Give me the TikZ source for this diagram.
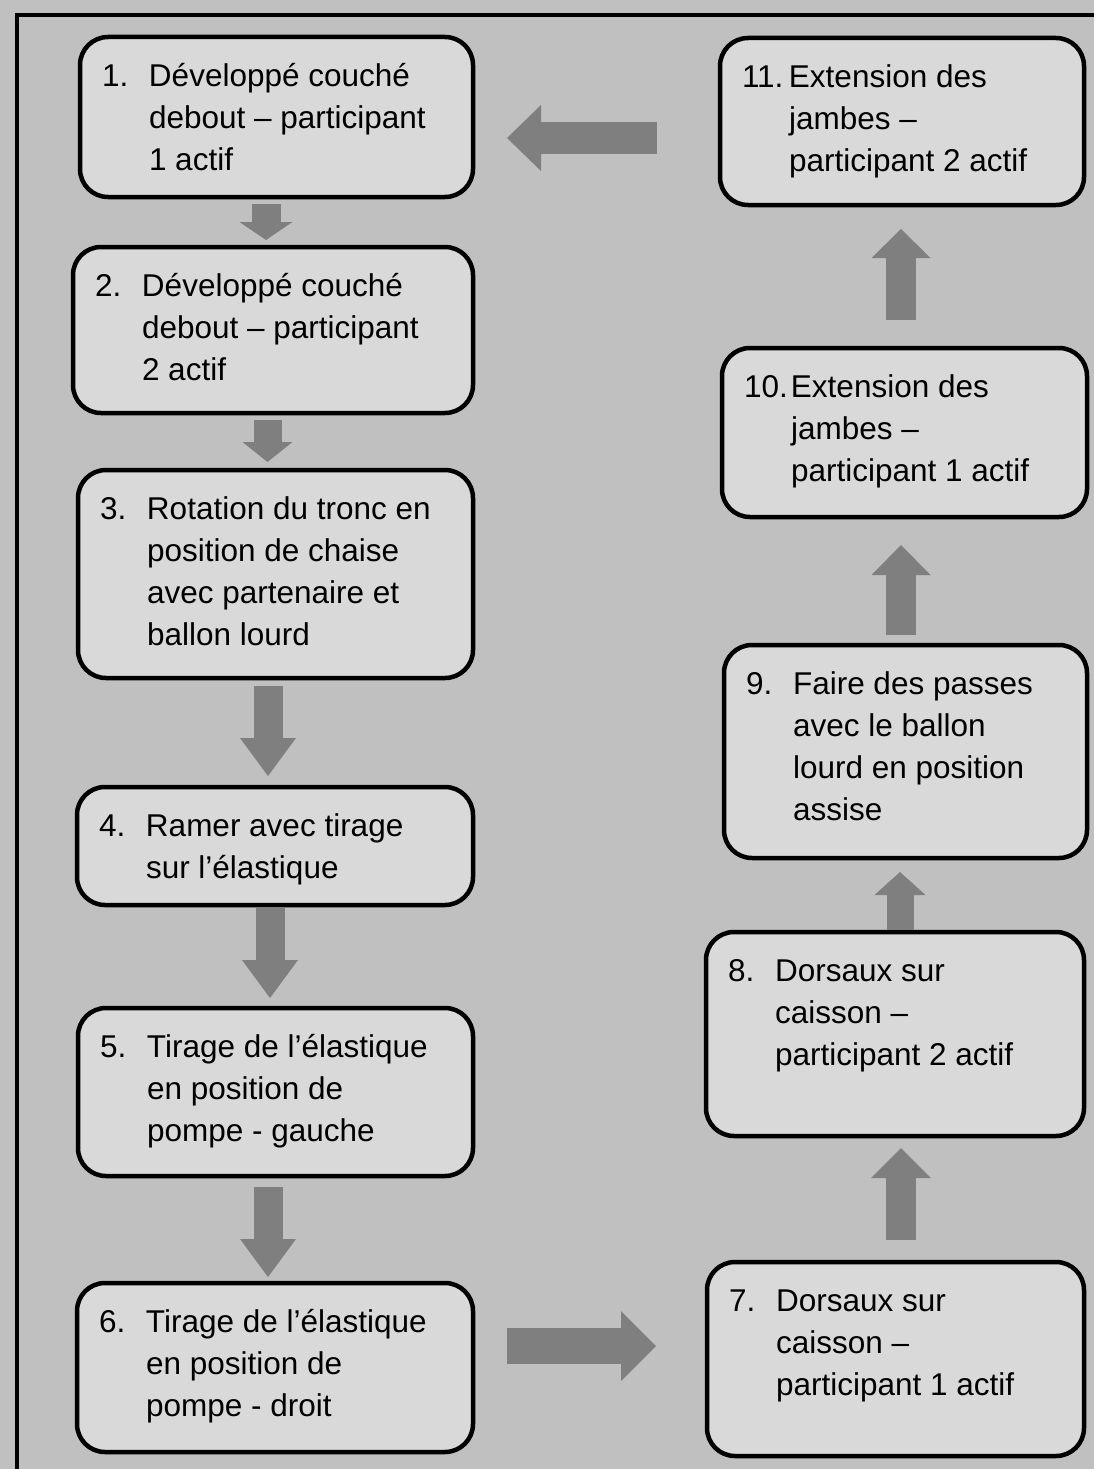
\documentclass[tikz,border=0pt]{standalone}
\usepackage{fontspec}
\setmainfont{Liberation Sans}
\usetikzlibrary{arrows.meta,calc}

\definecolor{fondgris}{RGB}{192,192,192}
\definecolor{boitegris}{RGB}{217,217,217}
\definecolor{flechegris}{RGB}{127,127,127}

% box content: width, height, number, lines
\newcommand{\etape}[4]{%
  \begin{minipage}[t][\dimexpr#2pt-40pt\relax][t]{\dimexpr#1pt-44pt\relax}%
    \begin{tabular}[t]{@{}p{47pt}@{}l@{}}#3 & #4\end{tabular}%
  \end{minipage}}

\tikzset{
  etapebox/.style={draw, line width=4.5pt, fill=boitegris, rounded corners=28pt,
    anchor=north west, inner xsep=22pt, inner ysep=20pt, outer sep=0pt},
  fleche/.style n args={3}{draw=flechegris, line width=#1,
    -{Triangle[length=#2, width=#3, line width=0pt]}}
}

\begin{document}
\begin{tikzpicture}[x=1pt, y=1pt, font=\fontsize{31.5}{42}\selectfont]
    % Background and frame
    \clip (0,0) rectangle (1094,-1469);
    \fill[fondgris] (0,0) rectangle (1094,-1469);
    \draw[line width=4.5pt] (17,-15) rectangle (1200,-1600);

    % Left column
    \node[etapebox] (b1) at (80,-37) {\etape{393}{160}{1.}{Développé couché\\ & debout – participant\\ & 1 actif}};
    \node[etapebox] (b2) at (73,-247) {\etape{400}{166}{2.}{Développé couché\\ & debout – participant\\ & 2 actif}};
    \node[etapebox] (b3) at (78,-470) {\etape{395}{208}{3.}{Rotation du tronc en\\ & position de chaise\\ & avec partenaire et\\ & ballon lourd}};
    \node[etapebox] (b4) at (77,-787) {\etape{396}{118}{4.}{Ramer avec tirage\\ & sur l’élastique}};
    \node[etapebox] (b5) at (78,-1008) {\etape{395}{168}{5.}{Tirage de l’élastique\\ & en position de\\ & pompe - gauche}};
    \node[etapebox] (b6) at (77,-1283) {\etape{396}{169}{6.}{Tirage de l’élastique\\ & en position de\\ & pompe - droit}};

    % Right column
    \node[etapebox] (b7) at (707,-1262) {\etape{377}{194}{7.}{Dorsaux sur\\ & caisson –\\ & participant 1 actif}};
    \node[etapebox] (b8) at (706,-932) {\etape{378}{204}{8.}{Dorsaux sur\\ & caisson –\\ & participant 2 actif}};
    \node[etapebox] (b9) at (724,-645) {\etape{363}{213}{9.}{Faire des passes\\ & avec le ballon\\ & lourd en position\\ & assise}};
    \node[etapebox] (b10) at (722,-348) {\etape{365}{169}{10.}{Extension des\\ & jambes –\\ & participant 1 actif}};
    \node[etapebox] (b11) at (720,-38) {\etape{364}{167}{11.}{Extension des\\ & jambes –\\ & participant 2 actif}};

    % Arrows down
    \draw[fleche={29pt}{18pt}{53pt}] ($(b1.south)+(-10.5,-7)$) coordinate (d12) -- ($(d12 |- b2.north)+(0,7)$);
    \draw[fleche={28pt}{20pt}{50pt}] ($(b2.south)+(-5.5,-7)$) coordinate (d23) -- ($(d23 |- b3.north)+(0,8)$);
    \draw[fleche={29pt}{38pt}{56pt}] ($(b3.south)+(-7.5,-8)$) coordinate (d34) -- ($(d34 |- b4.north)+(0,11)$);
    \draw[fleche={29pt}{38pt}{56pt}] ($(b4.south)+(-5,-3)$) coordinate (d45) -- ($(d45 |- b5.north)+(0,10)$);
    \draw[fleche={29pt}{38pt}{56pt}] ($(b5.south)+(-7.5,-11)$) coordinate (d56) -- ($(d56 |- b6.north)+(0,6)$);

    % Arrows across
    \draw[fleche={36pt}{35pt}{70pt}] ($(b6.east)+(34,21.5)$) coordinate (d67) -- ($(d67 -| b7.west)+(-51,0)$);
    \draw[fleche={32pt}{34pt}{66pt}] ($(b11.west)+(-63,-16.5)$) coordinate (d111) -- ($(d111 -| b1.east)+(34,0)$);

    % Arrows up
    \draw[fleche={30pt}{30pt}{60pt}] ($(b7.north)+(5.5,22)$) coordinate (d78) -- ($(d78 |- b8.south)+(0,-12)$);
    \draw[fleche={27pt}{23pt}{51pt}] ($(b8.north)+(5,2)$) coordinate (d89) -- ($(d89 |- b9.south)+(0,-14)$);
    \draw[fleche={30pt}{30pt}{59pt}] ($(b9.north)+(-4.5,10)$) coordinate (d910) -- ($(d910 |- b10.south)+(0,-28)$);
    \draw[fleche={30pt}{29pt}{59pt}] ($(b10.north)+(-3.5,28)$) coordinate (d1011) -- ($(d1011 |- b11.south)+(0,-24)$);
\end{tikzpicture}
\end{document}
